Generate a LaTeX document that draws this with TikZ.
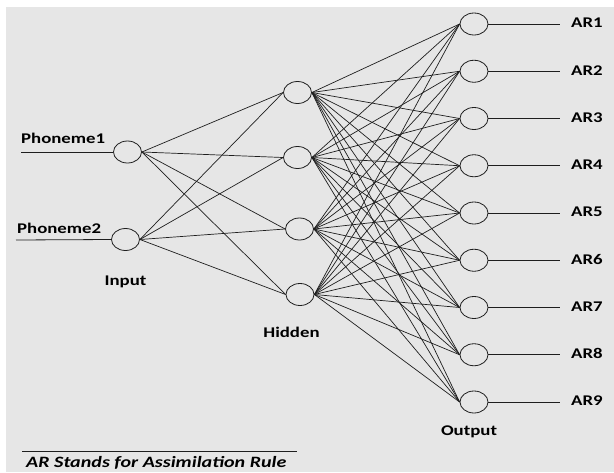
\documentclass[tikz,border=0pt]{standalone}
\usepackage{fontspec}
\setmainfont{Carlito}[FakeStretch=1.27]
\usetikzlibrary{shapes.geometric}
\definecolor{bg}{HTML}{E6E6E6}
\definecolor{ink}{HTML}{1E1E1E}
\tikzset{
  neuron/.style={ellipse, draw=ink, line width=0.8pt, minimum width=28pt, minimum height=22pt, inner sep=0pt},
  lbl/.style={font=\fontsize{14.8}{17}\selectfont\bfseries, text=black, inner sep=0pt},
  wire/.style={draw=ink, line width=0.7pt},
  lead/.style={draw=ink, line width=0.8pt}
}
\begin{document}
\begin{tikzpicture}[x=1pt,y=-1pt]
\useasboundingbox (0,0) rectangle (614,472);
\fill[bg] (6,7) rectangle (614,472);
% input
\node[neuron] (i1) at (127.5,152) {};
\node[neuron] (i2) at (125.5,239.5) {};
% hidden
\node[neuron] (h1) at (297.5,92.5) {};
\node[neuron] (h2) at (297.5,157.5) {};
\node[neuron] (h3) at (299.5,229) {};
\node[neuron] (h4) at (300,294.5) {};
% output
\foreach \k in {1,...,9}{
  \node[neuron] (o\k) at (474,{24+47.25*(\k-1)}) {};
  \coordinate (e\k) at (560,{24+47.25*(\k-1)});
  \node[lbl, anchor=west] (t\k) at (571,{23+47.25*(\k-1)}) {AR\k};
  \draw[lead] (o\k.east) -- (e\k);
}
% connections
\foreach \a in {1,2}{\foreach \b in {1,...,4}{\draw[wire] (i\a.east) -- (h\b.west);}}
\foreach \a in {1,...,4}{\foreach \b in {1,...,9}{\draw[wire] (h\a.east) -- (o\b.west);}}
% input leads
\coordinate (s1) at (21,152);
\coordinate (s2) at (16,240);
\draw[lead] (s1) -- (i1.west);
\draw[lead] (s2) -- (i2.west);
\node[lbl, anchor=base west] (p1) at (21,143) {Phoneme1};
\node[lbl, anchor=base west] (p2) at (17,233) {Phoneme2};
\node[lbl, anchor=base] (lin) at (125.5,285) {Input};
\node[lbl, anchor=base] (lhid) at (291.5,337) {Hidden};
\node[lbl, anchor=base] (lout) at (469,435) {Output};
% note
\coordinate (n1) at (22,451);
\coordinate (n2) at (297,451);
\draw[lead] (n1) -- (n2);
\node[lbl, font=\fontsize{15.8}{18}\selectfont\bfseries\itshape, anchor=base west] (note) at (26,467) {AR Stands for Assimilation Rule};
\end{tikzpicture}
\end{document}
